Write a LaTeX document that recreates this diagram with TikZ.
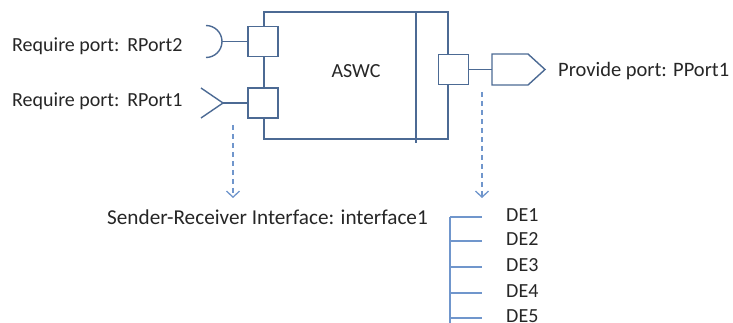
\documentclass[tikz,border=0pt]{standalone}
\usepackage{fontspec}
\setmainfont{Carlito}
\usepackage{xcolor}
\usepackage{tikz}
\usetikzlibrary{arrows.meta}

\definecolor{swcline}{RGB}{76,106,148}
\definecolor{deline}{RGB}{112,150,204}
\definecolor{txt}{RGB}{38,38,38}

\tikzset{
  swc/.style={draw=swcline,line width=1.4pt},
  port/.style={swc,fill=white,minimum size=30pt,inner sep=0pt},
  lbl/.style={text=txt,inner sep=0pt,font=\fontsize{20}{24}\selectfont},
  dep/.style={draw=deline,line width=1.3pt,dash pattern=on 5pt off 4pt,
    -{Straight Barb[length=6pt,width=13pt,line width=1.3pt]}},
  tree/.style={draw=deline,line width=1.5pt}
}

\begin{document}
\begin{tikzpicture}[x=1pt,y=-1pt]
  \useasboundingbox (0,0) rectangle (733,323);
  \clip (0,0) rectangle (733,323);

  % Component
  \draw[swc] (264,12) rectangle (448,139);
  \draw[swc] (416,12) -- (416,143);
  \node[lbl,anchor=base] (aswc) at (356,78) {ASWC};

  % Ports
  \node[port] (rp2) at (263,41.5) {};
  \node[port] (rp1) at (263,103) {};
  \node[port] (pp1) at (453.5,69.5) {};

  % Require port RPort2
  \coordinate (req2) at (222,41.5);
  \draw[swc] (206,25.5) arc[start angle=-90,end angle=90,radius=16];
  \draw[swc] (req2) -- (rp2.west);
  \node[lbl,anchor=base west] (lrp2) at (12,52) {Require port:\ \,RPort2};

  % Require port RPort1
  \coordinate (req1) at (223,103);
  \draw[swc] (201,88) -- (req1) -- (201,118);
  \draw[swc] (req1) -- (rp1.west);
  \node[lbl,anchor=base west] (lrp1) at (12,107) {Require port:\ \,RPort1};

  % Provide port PPort1
  \coordinate (prov) at (492,69.5);
  \draw[swc] (492,54) -- (528,54) -- (545,69.5) -- (528,85) -- (492,85) -- cycle;
  \draw[swc] (pp1.east) -- (prov);
  \node[lbl,anchor=base west,font=\fontsize{20.5}{24}\selectfont] (lpp1) at (558,77)
    {Provide port: PPort1};

  % Interface
  \node[lbl,anchor=base west,font=\fontsize{21.2}{26}\selectfont] (sri) at (107,224)
    {Sender-Receiver Interface: interface1};
  \coordinate (d1s) at (233,125);
  \coordinate (d1e) at (233,198);
  \draw[dep] (d1s) -- (d1e);

  % Data elements
  \coordinate (d2s) at (482,92);
  \coordinate (d2e) at (482,198);
  \draw[dep] (d2s) -- (d2e);
  \coordinate (troot) at (450,217);
  \draw[tree] (troot) -- (450,330);
  \foreach \i/\y in {1/217,2/241,3/267,4/293,5/318}{
    \draw[tree] (450,\y) -- (482,\y);
    \node[lbl,anchor=base west] (de\i) at (506,\y+4) {DE\i};
  }
\end{tikzpicture}
\end{document}
